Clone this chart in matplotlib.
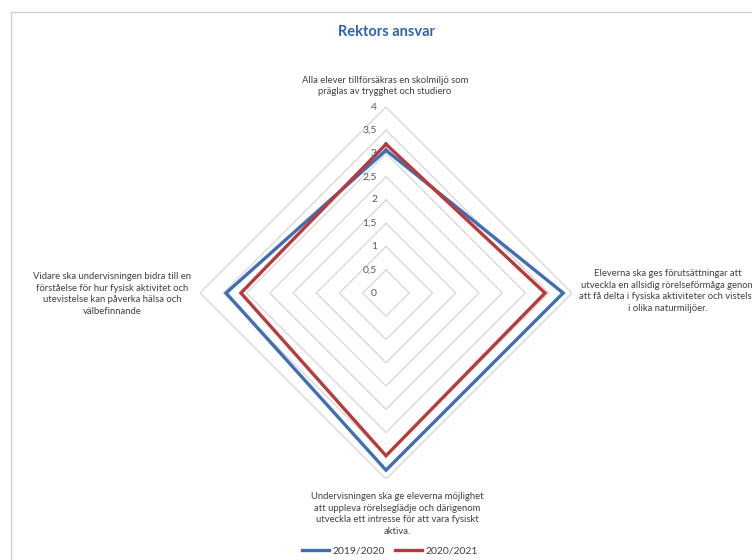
import numpy as np
import matplotlib
matplotlib.use("Agg")
import matplotlib.pyplot as plt
import matplotlib.transforms as mtransforms
from matplotlib.lines import Line2D

plt.rcParams['font.family'] = ['Lato', 'DejaVu Sans']

categories = [
    "Alla elever tillförsäkras en skolmiljö som\npräglas av trygghet och studiero",
    "Eleverna ska ges förutsättningar att\nutveckla en allsidig rörelseförmåga genom\natt få delta i fysiska aktiviteter och vistelse\ni olika naturmiljöer.",
    "Undervisningen ska ge eleverna möjlighet\natt uppleva rörelseglädje och därigenom\nutveckla ett intresse för att vara fysiskt\naktiva.",
    "Vidare ska undervisningen bidra till en\nförståelse för hur fysisk aktivitet och\nutevistelse kan påverka hälsa och\nvälbefinnande",
]
series_names = ["2019/2020", "2020/2021"]
values_2019 = [3.07, 3.81, 3.81, 3.44]
values_2020 = [3.2, 3.42, 3.5, 3.12]
tick_values = [0, 0.5, 1, 1.5, 2, 2.5, 3, 3.5, 4]
tick_labels = ["0", "0,5", "1", "1,5", "2", "2,5", "3", "3,5", "4"]
title = "Rektors ansvar"

W, H = 752, 560
fig = plt.figure(figsize=(W / 100, H / 100), dpi=100)
fig.patch.set_facecolor("white")

cx, cy, R = 386, 293, 186
ax = fig.add_axes([(cx - R) / W, (H - cy - R) / H, 2 * R / W, 2 * R / H], projection="polar")
ax.set_theta_zero_location("N")
ax.set_theta_direction(-1)
ax.set_ylim(0, 4)
ax.grid(False)
ax.spines["polar"].set_visible(False)
ax.set_xticks([])
ax.set_yticks([])
ax.patch.set_alpha(0)

n = len(categories)
angles = np.arange(n) * 2 * np.pi / n
ang_closed = np.concatenate([angles, angles[:1]])

grid_color = "#D9D9D9"
for r in tick_values[1:]:
    ax.plot(ang_closed, [r] * (n + 1), color=grid_color, lw=1.0, zorder=1)

colors = ["#3F6EB5", "#B93A3A"]
for vals, c in zip([values_2019, values_2020], colors):
    v = list(vals) + [vals[0]]
    ax.plot(ang_closed, v, color=c, lw=2.4, zorder=3, solid_joinstyle="miter")

off = mtransforms.offset_copy(ax.transData, fig=fig, x=-9, y=0, units="dots")
for tv, tl in zip(tick_values, tick_labels):
    ax.text(0, tv, tl, transform=off, ha="right", va="center",
            fontsize=7.5, color="#595959", zorder=4)

txt_kw = dict(fontsize=6.85, color="#404040", ha="center", va="center",
              linespacing=1.42, multialignment="center")
label_pos = [(385, 86), (668, 291), (397, 514), (112, 294)]
for lab, (x, y) in zip(categories, label_pos):
    fig.text(x / W, (H - y) / H, lab, **txt_kw)

fig.text(386 / W, (H - 32) / H, title, ha="center", va="center",
         fontsize=10.5, fontweight="bold", color="#2E64B0")

# chart border (cropped)
fig.add_artist(Line2D([11 / W, 1.0], [(H - 12) / H] * 2, color="#D0D0D0", lw=1.0,
                      transform=fig.transFigure))
fig.add_artist(Line2D([11 / W] * 2, [0, (H - 12) / H], color="#D0D0D0", lw=1.0,
                      transform=fig.transFigure))

handles = [Line2D([0], [0], color=c, lw=2.4) for c in colors]
fig.legend(handles, series_names, loc="center", bbox_to_anchor=(390 / W, (H - 551) / H),
           ncol=2, frameon=False, fontsize=7.5, handlelength=2.6, handletextpad=0.3,
           columnspacing=1.0, labelcolor="#404040")

fig.savefig("out.png", dpi=100)
